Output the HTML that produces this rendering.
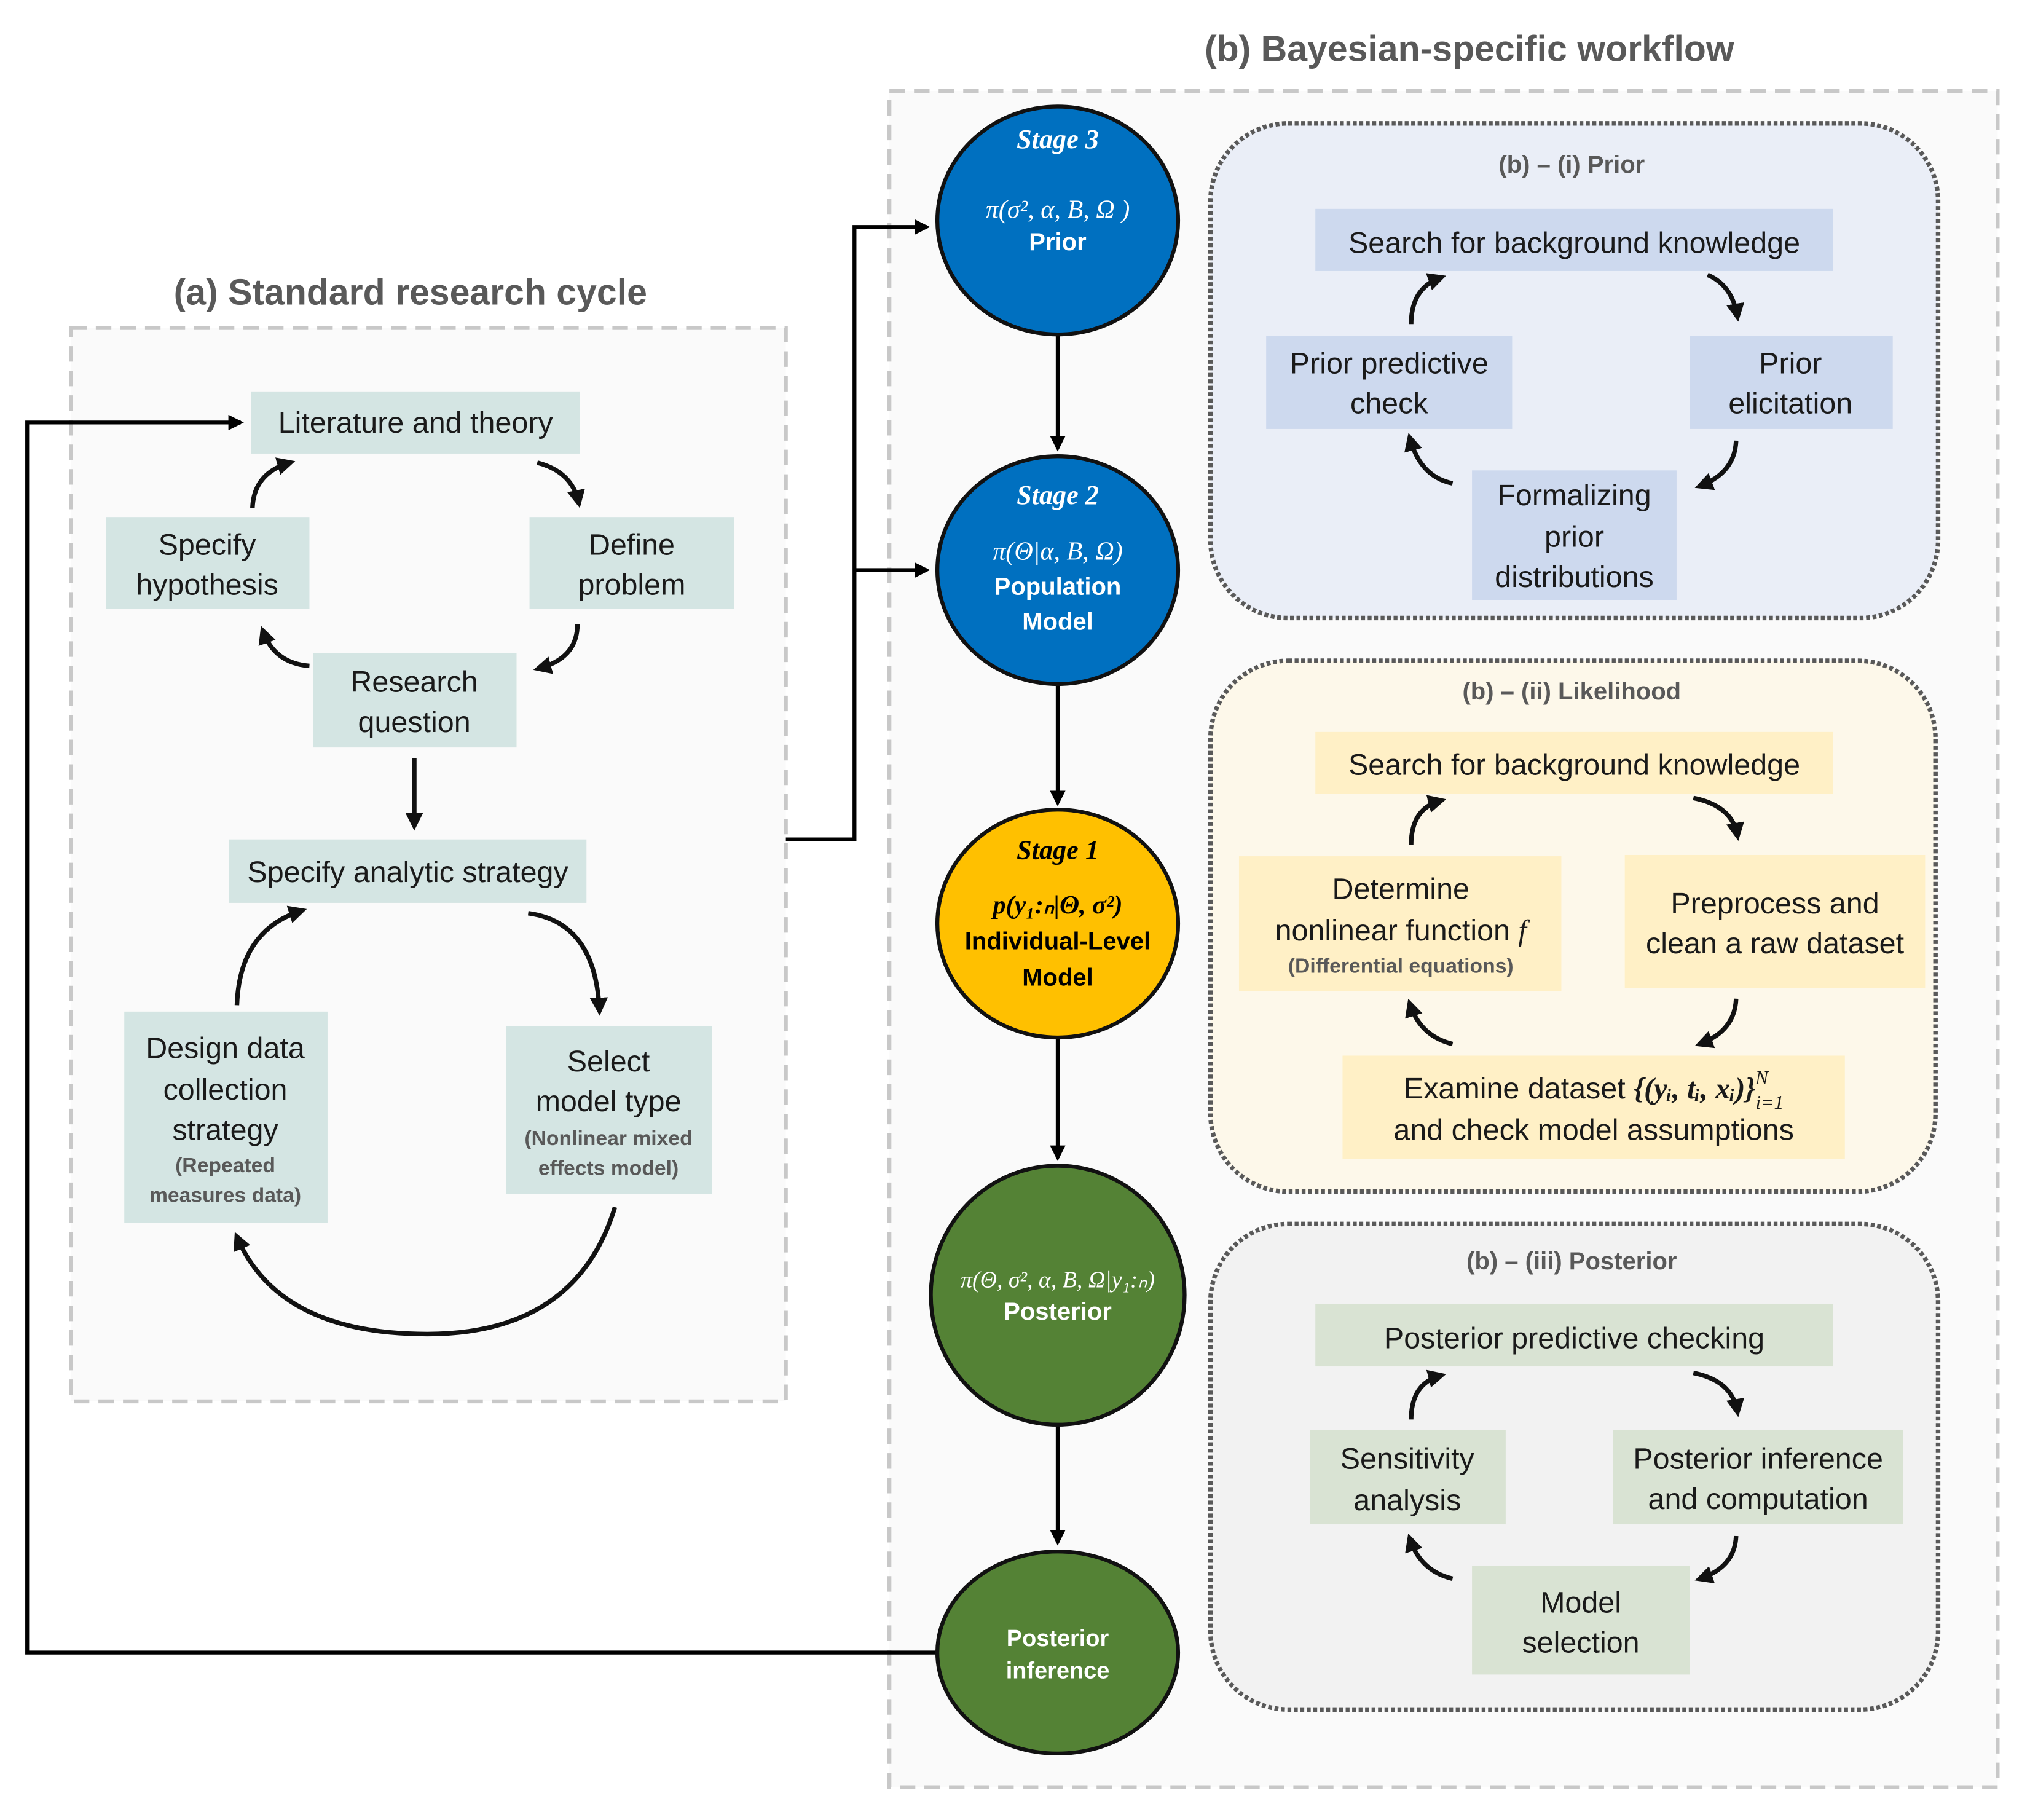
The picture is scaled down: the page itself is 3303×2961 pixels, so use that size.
<!DOCTYPE html>
<html><head><meta charset="utf-8"><style>
html,body{margin:0;padding:0;background:#fff}
svg{display:block}
text{font-family:"Liberation Sans Narrow","Liberation Sans",sans-serif}
.t{font-size:23px;fill:#1a1a1a;text-anchor:middle}
.s{font-size:16px;fill:#595959;font-weight:bold;text-anchor:middle}
.h{font-size:19px;fill:#595959;font-weight:bold;text-anchor:middle}
.w{fill:#fff;font-weight:bold;text-anchor:middle;font-size:19px}
.m{font-family:"Liberation Serif",serif;font-style:italic;text-anchor:middle;font-size:20px}
.a{fill:none;stroke:#111;stroke-width:3.5;marker-end:url(#ah)}
.c{fill:none;stroke:#111;stroke-width:3}
</style></head><body>
<svg width="3303" height="2961" viewBox="0 0 1568 1405" xmlns="http://www.w3.org/2000/svg">
<defs>
<marker id="ah" viewBox="0 0 10 10" refX="7" refY="5" markerWidth="4" markerHeight="4" orient="auto"><path d="M0,0 L10,5 L0,10 z" fill="#111"/></marker>
<marker id="ak" viewBox="0 0 10 10" refX="8" refY="5" markerWidth="4" markerHeight="4" orient="auto"><path d="M0,0 L10,5 L0,10 z" fill="#000"/></marker>
</defs>
<rect width="1568" height="1405" fill="#fff"/>
<!-- titles -->
<text x="1135" y="47" style="font-size:28px;font-weight:bold;fill:#595959;text-anchor:middle">(b) Bayesian-specific workflow</text>
<text x="317" y="235" style="font-size:28px;font-weight:bold;fill:#595959;text-anchor:middle">(a) Standard research cycle</text>
<!-- dashed containers -->
<rect x="687" y="70" width="856" height="1310" fill="#fafafa" stroke="#c8c8c8" stroke-width="3" stroke-dasharray="12,7"/>
<rect x="55" y="253" width="552" height="829" fill="#fafafa" stroke="#c8c8c8" stroke-width="3" stroke-dasharray="12,7"/>
<!-- left boxes -->
<g fill="#d4e5e3">
<rect x="194" y="302" width="254" height="48"/>
<rect x="82" y="399" width="157" height="71"/>
<rect x="409" y="399" width="158" height="71"/>
<rect x="242" y="504" width="157" height="73"/>
<rect x="177" y="648" width="276" height="49"/>
<rect x="96" y="781" width="157" height="163"/>
<rect x="391" y="792" width="159" height="130"/>
</g>
<text class="t" x="321" y="334">Literature and theory</text>
<text class="t" x="160" y="428">Specify</text><text class="t" x="160" y="459">hypothesis</text>
<text class="t" x="488" y="428">Define</text><text class="t" x="488" y="459">problem</text>
<text class="t" x="320" y="534">Research</text><text class="t" x="320" y="565">question</text>
<text class="t" x="315" y="681">Specify analytic strategy</text>
<text class="t" x="174" y="817">Design data</text><text class="t" x="174" y="849">collection</text><text class="t" x="174" y="880">strategy</text>
<text class="s" x="174" y="905">(Repeated</text><text class="s" x="174" y="928">measures data)</text>
<text class="t" x="470" y="827">Select</text><text class="t" x="470" y="858">model type</text>
<text class="s" x="470" y="884">(Nonlinear mixed</text><text class="s" x="470" y="907">effects model)</text>
<!-- left arrows -->
<path class="a" d="M195,392 Q196,365 224,357"/>
<path class="a" d="M415,357 Q442,364 447,388"/>
<path class="a" d="M446,482 Q446,508 416,516"/>
<path class="a" d="M239,514 Q212,512 203,487"/>
<path class="a" d="M320,585 L320,637"/>
<path class="a" d="M183,776 Q185,718 233,703"/>
<path class="a" d="M408,705 Q460,712 463,780"/>
<path class="a" d="M475,932 Q445,1030 330,1030 Q215,1030 183,955"/>
<!-- connectors -->
<polyline points="607,648 660,648 660,175 716,175" fill="none" stroke="#000" stroke-width="3" marker-end="url(#ak)"/>
<polyline points="660,440 716,440" fill="none" stroke="#000" stroke-width="3" marker-end="url(#ak)"/>
<polyline points="723,1276 21,1276 21,326 186,326" fill="none" stroke="#000" stroke-width="3" marker-end="url(#ak)"/>
<path d="M817,258 V346" stroke="#000" stroke-width="3" marker-end="url(#ak)"/>
<path d="M817,528 V620" stroke="#000" stroke-width="3" marker-end="url(#ak)"/>
<path d="M817,801 V894" stroke="#000" stroke-width="3" marker-end="url(#ak)"/>
<path d="M817,1085 V1191" stroke="#000" stroke-width="3" marker-end="url(#ak)"/>
<!-- circles -->
<ellipse cx="817" cy="170" rx="93" ry="88" fill="#0070c0" stroke="#111" stroke-width="3"/>
<ellipse cx="817" cy="440" rx="93" ry="88" fill="#0070c0" stroke="#111" stroke-width="3"/>
<ellipse cx="817" cy="713" rx="93" ry="88" fill="#ffc000" stroke="#111" stroke-width="3"/>
<ellipse cx="817" cy="1000" rx="98" ry="100" fill="#548235" stroke="#111" stroke-width="3"/>
<ellipse cx="817" cy="1276" rx="93" ry="78" fill="#548235" stroke="#111" stroke-width="3"/>
<text class="w" x="817" y="114" style="font-style:italic;font-family:'Liberation Serif',serif;font-size:21px">Stage 3</text>
<text class="m" x="817" y="168" fill="#fff">π(σ², α, B, Ω )</text>
<text class="w" x="817" y="193">Prior</text>
<text class="w" x="817" y="389" style="font-style:italic;font-family:'Liberation Serif',serif;font-size:21px">Stage 2</text>
<text class="m" x="817" y="432" fill="#fff">π(Θ|α, B, Ω)</text>
<text class="w" x="817" y="459">Population</text>
<text class="w" x="817" y="486">Model</text>
<text x="817" y="663" style="font-style:italic;font-weight:bold;font-family:'Liberation Serif',serif;font-size:21px;text-anchor:middle;fill:#000">Stage 1</text>
<text class="m" x="817" y="705" fill="#000" style="font-weight:bold">p(y₁:ₙ|Θ, σ²)</text>
<text x="817" y="733" style="font-weight:bold;font-size:19px;text-anchor:middle;fill:#000">Individual-Level</text>
<text x="817" y="761" style="font-weight:bold;font-size:19px;text-anchor:middle;fill:#000">Model</text>
<text class="m" x="817" y="994" fill="#fff" style="font-size:18px">π(Θ, σ², α, B, Ω|y₁:ₙ)</text>
<text class="w" x="817" y="1019">Posterior</text>
<text class="w" x="817" y="1271" style="font-size:18px">Posterior</text>
<text class="w" x="817" y="1296" style="font-size:18px">inference</text>
<!-- panel i -->
<rect x="935" y="95" width="562" height="382" rx="60" fill="#eaeef7" stroke="#595959" stroke-width="3.5" stroke-dasharray="3,2"/>
<text class="h" x="1214" y="133">(b) – (i) Prior</text>
<g fill="#cdd9ee">
<rect x="1016" y="161" width="400" height="48"/>
<rect x="978" y="259" width="190" height="72"/>
<rect x="1305" y="259" width="157" height="72"/>
<rect x="1137" y="363" width="158" height="100"/>
</g>
<text class="t" x="1216" y="195">Search for background knowledge</text>
<text class="t" x="1073" y="288">Prior predictive</text><text class="t" x="1073" y="319">check</text>
<text class="t" x="1383" y="288">Prior</text><text class="t" x="1383" y="319">elicitation</text>
<text class="t" x="1216" y="390">Formalizing</text><text class="t" x="1216" y="422">prior</text><text class="t" x="1216" y="453">distributions</text>
<path class="a" d="M1090,250 Q1090,222 1113,214"/>
<path class="a" d="M1319,212 Q1338,220 1342,244"/>
<path class="a" d="M1341,340 Q1340,365 1313,375"/>
<path class="a" d="M1122,373 Q1097,368 1089,338"/>
<!-- panel ii -->
<rect x="935" y="510" width="560" height="410" rx="60" fill="#fdf8ea" stroke="#595959" stroke-width="3.5" stroke-dasharray="3,2"/>
<text class="h" x="1214" y="540">(b) – (ii) Likelihood</text>
<g fill="#fff0c6">
<rect x="1016" y="565" width="400" height="48"/>
<rect x="957" y="661" width="249" height="104"/>
<rect x="1255" y="660" width="232" height="103"/>
<rect x="1037" y="815" width="388" height="80"/>
</g>
<text class="t" x="1216" y="598">Search for background knowledge</text>
<text class="t" x="1082" y="694">Determine</text>
<text class="t" x="1082" y="726">nonlinear function <tspan font-family="Liberation Serif" font-style="italic">f</tspan></text>
<text class="s" x="1082" y="751">(Differential equations)</text>
<text class="t" x="1371" y="705">Preprocess and</text><text class="t" x="1371" y="736">clean a raw dataset</text>
<text class="t" x="1231" y="848">Examine dataset <tspan font-family="Liberation Serif" font-style="italic" font-weight="bold">{(yᵢ, tᵢ, xᵢ)}</tspan><tspan font-family="Liberation Serif" font-style="italic" font-size="15" dy="8">i=1</tspan><tspan font-family="Liberation Serif" font-style="italic" font-size="15" dx="-22" dy="-19">N</tspan></text>
<text class="t" x="1231" y="880">and check model assumptions</text>
<path class="a" d="M1090,652 Q1090,624 1113,618"/>
<path class="a" d="M1308,616 Q1338,622 1342,645"/>
<path class="a" d="M1341,771 Q1340,796 1313,806"/>
<path class="a" d="M1122,806 Q1097,800 1089,775"/>
<!-- panel iii -->
<rect x="935" y="945" width="562" height="375" rx="60" fill="#f2f2f2" stroke="#595959" stroke-width="3.5" stroke-dasharray="3,2"/>
<text class="h" x="1214" y="980">(b) – (iii) Posterior</text>
<g fill="#d9e3d3">
<rect x="1016" y="1007" width="400" height="48"/>
<rect x="1012" y="1104" width="151" height="73"/>
<rect x="1246" y="1104" width="224" height="73"/>
<rect x="1137" y="1209" width="168" height="84"/>
</g>
<text class="t" x="1216" y="1041">Posterior predictive checking</text>
<text class="t" x="1087" y="1134">Sensitivity</text><text class="t" x="1087" y="1166">analysis</text>
<text class="t" x="1358" y="1134">Posterior inference</text><text class="t" x="1358" y="1165">and computation</text>
<text class="t" x="1221" y="1245">Model</text><text class="t" x="1221" y="1276">selection</text>
<path class="a" d="M1090,1096 Q1090,1068 1113,1062"/>
<path class="a" d="M1308,1060 Q1338,1066 1342,1090"/>
<path class="a" d="M1341,1186 Q1340,1210 1313,1219"/>
<path class="a" d="M1122,1219 Q1097,1213 1089,1188"/>
</svg>
</body></html>
